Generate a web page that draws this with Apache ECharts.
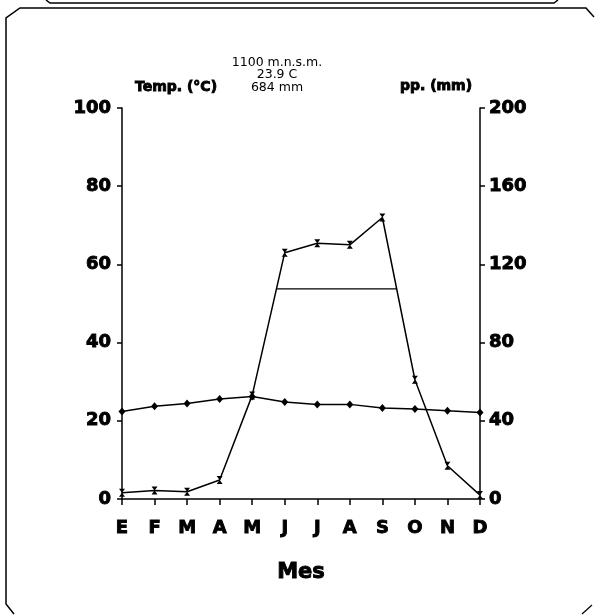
<!DOCTYPE html>
<html>
<head>
<meta charset="utf-8">
<script src="https://cdn.jsdelivr.net/npm/echarts@6/dist/echarts.min.js"></script>
<style>
  html, body { margin: 0; padding: 0; background: #fff; }
  #chart { width: 596px; height: 615px; }
</style>
</head>
<body>
<div id="chart"></div>
<script>
// months (Spanish initials)
var months = ['E', 'F', 'M', 'A', 'M', 'J', 'J', 'A', 'S', 'O', 'N', 'D'];
// mean monthly temperature (°C)
var temp = [22.4, 23.7, 24.4, 25.6, 26.2, 24.8, 24.2, 24.2, 23.3, 23.0, 22.6, 22.1];
// monthly precipitation (mm)
var precip = [3.2, 4.3, 3.7, 9.7, 53, 126, 130.8, 130, 144, 61, 17, 2];
// horizontal line on the precipitation scale (start month, end month, mm)
var humidLine = [[4.74, 107.5], [8.45, 107.5]];
var tempTicks = [0, 20, 40, 60, 80, 100];
var ppTicks = [0, 40, 80, 120, 160, 200];
var header = ['1100 m.n.s.m.', '23.9 C', '684 mm'];

var heavy = 'DejaVu Sans';
var hourglass = 'path://M0,0 L10,0 L5,6 L10,12 L0,12 L5,6 Z';
// black outline to make the bold labels look like the heavy print
var ink = { textBorderColor: '#000', textBorderWidth: 0.9 };

var ec = echarts.init(document.getElementById('chart'));
ec.setOption({
  animation: false,
  backgroundColor: '#fff',
  grid: { left: 122, right: 116, top: 108, bottom: 116 },
  graphic: [
    // frame with chamfered corners
    {
      type: 'polyline',
      shape: { points: [[594, 17], [586, 8], [20, 8], [6, 18], [6, 604], [14, 614]] },
      style: { stroke: '#000', lineWidth: 1.5, fill: null }
    },
    {
      type: 'polyline',
      shape: { points: [[582, 614], [592, 605]] },
      style: { stroke: '#000', lineWidth: 1.2, fill: null }
    },
    // bottom edge of the box above
    {
      type: 'polyline',
      shape: { points: [[46, 0], [50, 3], [554, 3], [558, 0]] },
      style: { stroke: '#000', lineWidth: 1.5, fill: null }
    },
    {
      type: 'text', x: 176, y: 87,
      style: {
        text: 'Temp. (°C)', font: 'bold 14px ' + heavy, fill: '#000',
        stroke: '#000', lineWidth: 0.9,
        align: 'center', verticalAlign: 'middle'
      }
    },
    {
      type: 'text', x: 436, y: 86,
      style: {
        text: 'pp. (mm)', font: 'bold 14px ' + heavy, fill: '#000',
        stroke: '#000', lineWidth: 0.9,
        align: 'center', verticalAlign: 'middle'
      }
    },
    {
      type: 'text', x: 277, y: 56,
      style: {
        text: header.join('\n'), font: '12.5px ' + heavy, fill: '#000',
        align: 'center', verticalAlign: 'top', lineHeight: 12.8
      }
    }
  ],
  xAxis: {
    type: 'value',
    min: 0,
    max: months.length - 1,
    interval: 1,
    name: 'Mes',
    nameLocation: 'middle',
    nameGap: 63,
    nameTextStyle: Object.assign({ fontFamily: heavy, fontWeight: 'bold', fontSize: 21, color: '#000' }, ink),
    axisLine: { show: true, lineStyle: { color: '#000', width: 1.5 } },
    axisTick: { show: true, inside: false, length: 6, lineStyle: { color: '#000', width: 1.5 } },
    splitLine: { show: false },
    axisLabel: Object.assign({
      margin: 20,
      fontFamily: heavy, fontWeight: 'bold', fontSize: 18, color: '#000',
      formatter: function (v) { return months[v]; }
    }, ink)
  },
  yAxis: [{
    type: 'value',
    min: tempTicks[0],
    max: tempTicks[tempTicks.length - 1],
    interval: tempTicks[1] - tempTicks[0],
    position: 'left',
    axisLine: { show: true, lineStyle: { color: '#000', width: 1.5 } },
    axisTick: { show: true, length: 5, lineStyle: { color: '#000', width: 1.5 } },
    splitLine: { show: false },
    axisLabel: Object.assign({ margin: 11, fontFamily: heavy, fontWeight: 'bold', fontSize: 18, color: '#000' }, ink)
  }, {
    type: 'value',
    min: ppTicks[0],
    max: ppTicks[ppTicks.length - 1],
    interval: ppTicks[1] - ppTicks[0],
    position: 'right',
    axisLine: { show: true, lineStyle: { color: '#000', width: 1.5 } },
    axisTick: { show: true, length: 5, lineStyle: { color: '#000', width: 1.5 } },
    splitLine: { show: false },
    axisLabel: Object.assign({ margin: 9, fontFamily: heavy, fontWeight: 'bold', fontSize: 18, color: '#000' }, ink)
  }],
  series: [{
    name: 'Temp',
    type: 'line',
    yAxisIndex: 0,
    data: temp.map(function (v, i) { return [i, v]; }),
    symbol: 'diamond',
    symbolSize: [7, 8],
    itemStyle: { color: '#000' },
    lineStyle: { color: '#000', width: 1.5 }
  }, {
    name: 'pp',
    type: 'line',
    yAxisIndex: 1,
    data: precip.map(function (v, i) { return [i, v]; }),
    symbol: hourglass,
    symbolSize: [6, 8],
    itemStyle: { color: '#000' },
    lineStyle: { color: '#000', width: 1.5 }
  }, {
    name: 'line',
    type: 'line',
    yAxisIndex: 1,
    data: humidLine,
    symbol: 'none',
    lineStyle: { color: '#000', width: 1.3 }
  }]
});
</script>
</body>
</html>
